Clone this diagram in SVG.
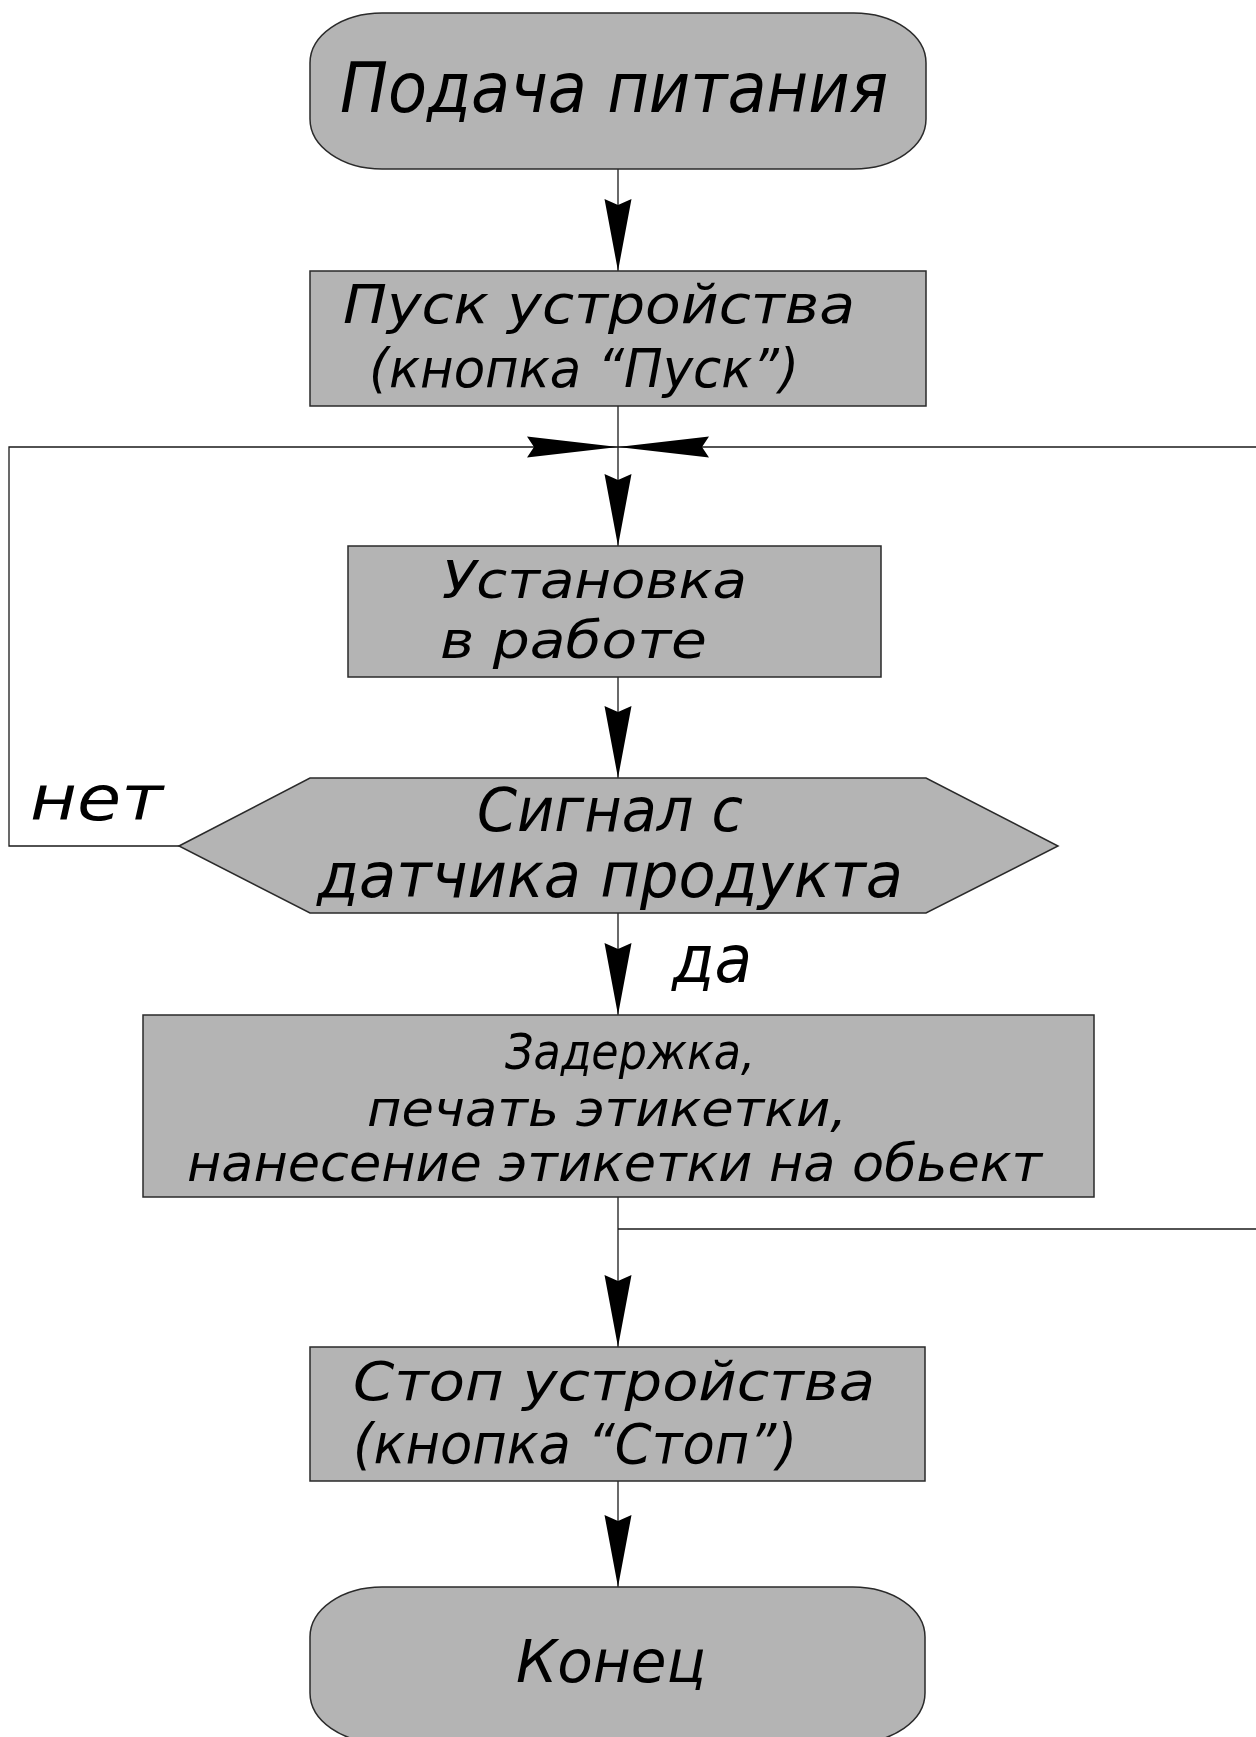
<svg xmlns="http://www.w3.org/2000/svg" xmlns:xlink="http://www.w3.org/1999/xlink" width="1256" height="1737" viewBox="0 0 1256 1737">
<style>
.shape{fill:#b4b4b4;stroke:#2a2a2a;stroke-width:1.5}
.ln{fill:none;stroke:#1a1a1a;stroke-width:1.3}
.ah{fill:#000;stroke:none}
text{font-family:"DejaVu Sans Condensed","DejaVu Sans",sans-serif;font-style:italic;fill:#000}
</style>
<defs>
<path id="ahV" class="ah" d="M0,0 L-72,-13.5 L-66,0 L-72,13.5 Z"/>
<path id="ahH" class="ah" d="M0,0 L-91,-10.5 L-84,0 L-91,10.5 Z"/>
</defs>
<rect width="1256" height="1737" fill="#fff"/>

<g id="connectors">
<line class="ln" x1="618" y1="169" x2="618" y2="271"/>
<line class="ln" x1="618" y1="406" x2="618" y2="546"/>
<line class="ln" x1="618" y1="677" x2="618" y2="778"/>
<line class="ln" x1="618" y1="913" x2="618" y2="1015"/>
<line class="ln" x1="618" y1="1197" x2="618" y2="1347"/>
<line class="ln" x1="618" y1="1481" x2="618" y2="1587"/>
<polyline class="ln" points="179,846 9,846 9,447 618,447"/>
<line class="ln" x1="1256" y1="447" x2="618" y2="447"/>
<line class="ln" x1="618" y1="1229" x2="1256" y2="1229"/>
<use xlink:href="#ahV" transform="translate(618,271) rotate(90)"/>
<use xlink:href="#ahV" transform="translate(618,546) rotate(90)"/>
<use xlink:href="#ahV" transform="translate(618,778) rotate(90)"/>
<use xlink:href="#ahV" transform="translate(618,1015) rotate(90)"/>
<use xlink:href="#ahV" transform="translate(618,1347) rotate(90)"/>
<use xlink:href="#ahV" transform="translate(618,1587) rotate(90)"/>
<use xlink:href="#ahH" transform="translate(618,447)"/>
<use xlink:href="#ahH" transform="translate(618,447) rotate(180)"/>
<text x="30" y="820" font-size="62" textLength="133" lengthAdjust="spacingAndGlyphs">нет</text>
<text x="672" y="982" font-size="66" textLength="80" lengthAdjust="spacingAndGlyphs">да</text>
</g>

<g id="start">
<rect class="shape" x="310" y="13" width="616" height="156" rx="72" ry="50"/>
<text x="340" y="112" font-size="70" textLength="548" lengthAdjust="spacingAndGlyphs">Подача питания</text>
</g>

<g id="launch">
<rect class="shape" x="310" y="271" width="616" height="135"/>
<text x="343" y="323" font-size="53" textLength="512" lengthAdjust="spacingAndGlyphs">Пуск устройства</text>
<text x="369" y="387" font-size="54" textLength="430" lengthAdjust="spacingAndGlyphs">(кнопка “Пуск”)</text>
</g>

<g id="working">
<rect class="shape" x="348" y="546" width="533" height="131"/>
<text x="442" y="598" font-size="52" textLength="305" lengthAdjust="spacingAndGlyphs">Установка</text>
<text x="440" y="658" font-size="51" textLength="267" lengthAdjust="spacingAndGlyphs">в работе</text>
</g>

<g id="decision">
<polygon class="shape" points="179,846 310,778 926,778 1058,846 926,913 310,913"/>
<text x="477" y="831" font-size="60" textLength="266" lengthAdjust="spacingAndGlyphs">Сигнал с</text>
<text x="317" y="897" font-size="62" textLength="586" lengthAdjust="spacingAndGlyphs">датчика продукта</text>
</g>

<g id="labeling">
<rect class="shape" x="143" y="1015" width="951" height="182"/>
<text x="505" y="1069" font-size="50" textLength="250" lengthAdjust="spacingAndGlyphs">Задержка,</text>
<text x="367" y="1126" font-size="50" textLength="480" lengthAdjust="spacingAndGlyphs">печать этикетки,</text>
<text x="187" y="1181" font-size="52" textLength="855" lengthAdjust="spacingAndGlyphs">нанесение этикетки на обьект</text>
</g>

<g id="stop">
<rect class="shape" x="310" y="1347" width="615" height="134"/>
<text x="353" y="1400" font-size="53" textLength="522" lengthAdjust="spacingAndGlyphs">Стоп устройства</text>
<text x="353" y="1463" font-size="55" textLength="444" lengthAdjust="spacingAndGlyphs">(кнопка “Стоп”)</text>
</g>

<g id="end">
<rect class="shape" x="310" y="1587" width="615" height="156" rx="72" ry="50"/>
<text x="516" y="1682" font-size="58" textLength="190" lengthAdjust="spacingAndGlyphs">Конец</text>
</g>
</svg>
